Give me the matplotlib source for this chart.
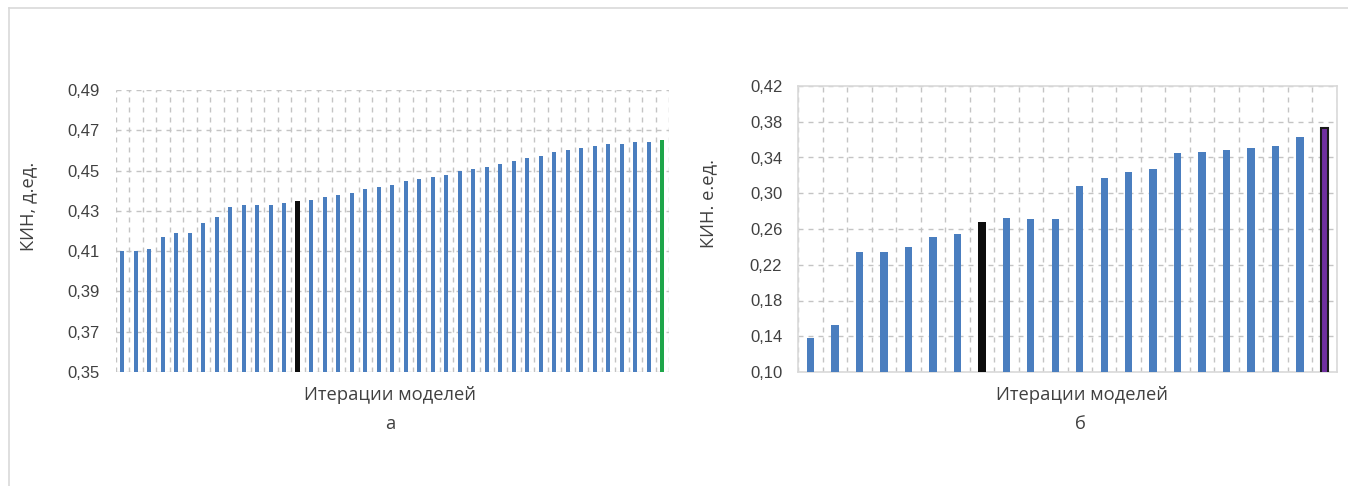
import matplotlib
matplotlib.use("Agg")
import matplotlib.pyplot as plt
import numpy as np
from matplotlib.lines import Line2D

# КИН по итерациям моделей, панель "а"
kin_a = [0.410, 0.410, 0.411, 0.417, 0.419, 0.419, 0.424, 0.427, 0.432, 0.433,
         0.433, 0.433, 0.434, 0.435, 0.4355, 0.437, 0.438, 0.439, 0.441, 0.442,
         0.443, 0.445, 0.446, 0.447, 0.448, 0.450, 0.451, 0.452, 0.4535, 0.455,
         0.456, 0.457, 0.459, 0.460, 0.461, 0.462, 0.463, 0.463, 0.464, 0.464,
         0.465]
base_a = 13     # базовая итерация (чёрный)
best_a = 40     # лучшая итерация (зелёный)
yticks_a = [0.35, 0.37, 0.39, 0.41, 0.43, 0.45, 0.47, 0.49]

# КИН по итерациям моделей, панель "б"
kin_b = [0.138, 0.153, 0.234, 0.234, 0.240, 0.251, 0.254, 0.268, 0.272, 0.271,
         0.271, 0.308, 0.317, 0.324, 0.327, 0.345, 0.346, 0.348, 0.351, 0.353,
         0.363, 0.373]
base_b = 7
best_b = 21
yticks_b = [0.10, 0.14, 0.18, 0.22, 0.26, 0.30, 0.34, 0.38, 0.42]

BLUE = "#4a7ebf"
GRID = "#c4c4c4"
TXT = "#404040"
dash = (0, (3.6, 3.6))

fig = plt.figure(figsize=(13.48, 4.86), dpi=100)
W, H = 1348, 486


def px_axes(l, t, r, b):
    return fig.add_axes([l / W, 1 - b / H, (r - l) / W, (b - t) / H])


def setup(ax, n, yticks):
    ax.set_xlim(-0.5, n - 0.5)
    ax.set_ylim(yticks[0], yticks[-1])
    ax.set_yticks(yticks)
    ax.set_yticklabels([f"{v:.2f}".replace(".", ",") for v in yticks],
                       fontfamily="Liberation Sans", fontsize=12, color=TXT)
    ax.set_xticks(np.arange(n + 1) - 0.5)
    ax.set_xticklabels([])
    ax.tick_params(length=0, pad=11.5)
    ax.grid(True, color=GRID, linestyle=dash, linewidth=1.0)
    ax.set_axisbelow(True)


def widen(bar, w):
    x = bar.get_x() + bar.get_width() / 2
    bar.set_width(w)
    bar.set_x(x - w / 2)


# панель а
ax1 = px_axes(115.5, 90, 669, 372)
setup(ax1, len(kin_a), yticks_a)
colors_a = [BLUE] * len(kin_a)
colors_a[base_a] = "#0d0d0d"
colors_a[best_a] = "#1fa64a"
bars_a = ax1.bar(np.arange(len(kin_a)), kin_a, width=0.28, color=colors_a,
                 zorder=3)
widen(bars_a[base_a], 0.36)
for s in ax1.spines.values():
    s.set_visible(False)

# панель б
ax2 = px_axes(798.3, 86, 1336.7, 372)
setup(ax2, len(kin_b), yticks_b)
colors_b = [BLUE] * len(kin_b)
colors_b[base_b] = "#0d0d0d"
colors_b[best_b] = "#7030a0"
bars_b = ax2.bar(np.arange(len(kin_b)), kin_b, width=0.3, color=colors_b,
                 zorder=3)
widen(bars_b[base_b], 0.34)
bars_b[best_b].set_edgecolor("#1a1a1a")
bars_b[best_b].set_linewidth(1.5)
widen(bars_b[best_b], 0.32)
for s in ax2.spines.values():
    s.set_color("#d9d9d9")
    s.set_linewidth(1.2)

# подписи
lab = dict(fontfamily="Open Sans", fontsize=13.2, color=TXT)
fig.text(28 / W, 1 - 206 / H, "КИН, д.ед.", rotation=90, ha="center",
         va="center", **lab)
fig.text(708 / W, 1 - 203 / H, "КИН. е.ед.", rotation=90, ha="center",
         va="center", **lab)
fig.text(390 / W, 1 - 395 / H, "Итерации моделей", ha="center", va="center", **lab)
fig.text(1082 / W, 1 - 395 / H, "Итерации моделей", ha="center", va="center", **lab)
fig.text(390 / W, 1 - 424 / H, "а", ha="center", va="center", **lab)
fig.text(1080 / W, 1 - 424 / H, "б", ha="center", va="center", **lab)

# внешняя рамка
fig.add_artist(Line2D([9 / W, 1], [1 - 8.5 / H, 1 - 8.5 / H],
                      transform=fig.transFigure, color="#d9d9d9", lw=1.2))
fig.add_artist(Line2D([9 / W, 9 / W], [0, 1 - 8.5 / H],
                      transform=fig.transFigure, color="#d9d9d9", lw=1.2))

fig.savefig("out.png", dpi=100)
